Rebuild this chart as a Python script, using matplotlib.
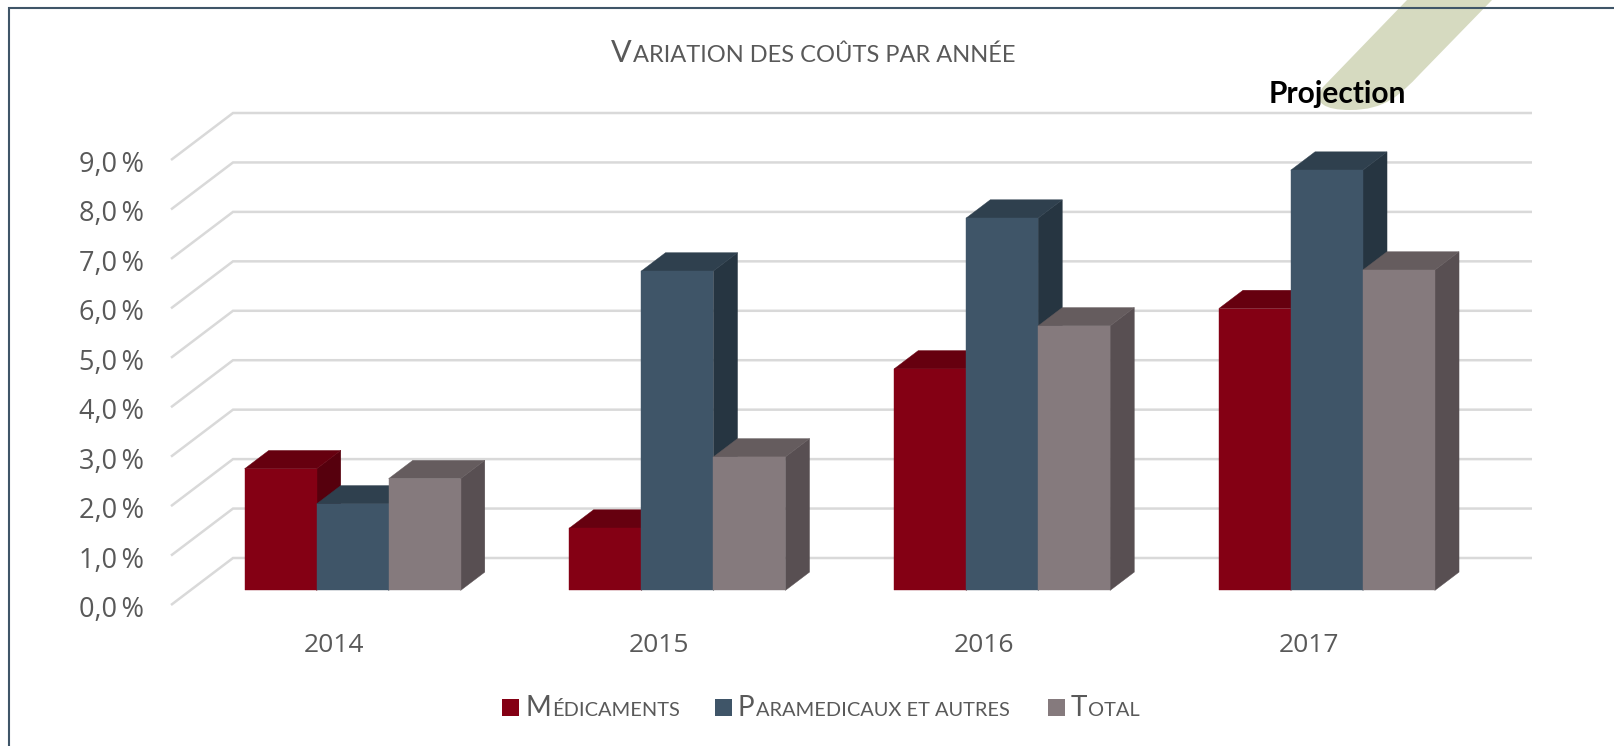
import matplotlib
matplotlib.use('Agg')
from matplotlib import pyplot as plt
from matplotlib.patches import PathPatch, Polygon, Rectangle
from matplotlib.path import Path

years = ['2014', '2015', '2016', '2017']
series_names = ['MÉDICAMENTS', 'PARAMEDICAUX ET AUTRES', 'TOTAL']
medicaments = [2.46, 1.26, 4.48, 5.7]
paramedicaux = [1.75, 6.46, 7.53, 8.5]
total = [2.26, 2.7, 5.35, 6.48]
y_ticks = [0, 1, 2, 3, 4, 5, 6, 7, 8, 9]

W, H = 1614, 746
GREY = '#595959'
fronts = ['#840014', '#3F5568', '#857A7D']
tops = ['#66000F', '#2F404E', '#655C5E']
sides = ['#56000D', '#263541', '#584F52']

# shift from front to back of the floor, in data units
DX = 62 / 324.7
DY = 47 / 49.44
BAR_W = 72 / 324.7


def proj(x, y, d):
    return x + d * DX, y + d * DY


def px(x, y):
    """pixel position from the top left to figure fraction"""
    return x / W, 1 - y / H


def small_caps(fig, x, y, text, big, small):
    """first letter large and the rest as small capitals, x,y in pixels"""
    r = fig.canvas.get_renderer()
    t = fig.text(*px(x, y), text[0], fontsize=big, color=GREY, family='Lato', va='baseline')
    fig.text(*px(x + t.get_window_extent(r).width + 1, y), text[1:], fontsize=small, color=GREY,
             family='Lato', va='baseline')


fig = plt.figure(figsize=(W / 100, H / 100), dpi=100)
fig.patch.set_facecolor('white')

# olive band behind the frame, rounded at its lower end
band_verts = [px(1407, 0), px(1492, 0), px(1420, 74), px(1400, 95), px(1385, 110), px(1350, 110),
              px(1325, 110), px(1312, 103), px(1323, 87), px(1407, 0)]
band_codes = [Path.MOVETO, Path.LINETO, Path.LINETO, Path.CURVE4, Path.CURVE4, Path.CURVE4,
              Path.CURVE4, Path.CURVE4, Path.CURVE4, Path.CLOSEPOLY]
fig.add_artist(PathPatch(Path(band_verts, band_codes), transform=fig.transFigure, fc='#D6DAC0',
                         ec='none', zorder=0))
# frame has only a top and a left side
fig.add_artist(plt.Line2D([9 / W, 9 / W, 1], [0, 1 - 8 / H, 1 - 8 / H], color='#3F5568', lw=1.5,
                          zorder=1, solid_joinstyle='miter'))

ax = fig.add_axes([171 / W, 1 - 605 / H, (1532 - 171) / W, (605 - 113) / H])
ax.set_xlim(-0.5, 3.5 + DX)
ax.set_ylim(0, 9 + DY)
ax.axis('off')
ax.patch.set_alpha(0)

# gridlines: wall and side
for v in y_ticks:
    x0, y0 = proj(-0.5, v, 0)
    x1, y1 = proj(-0.5, v, 1)
    x2, y2 = proj(3.5, v, 1)
    ax.plot([x0, x1, x2], [y0, y1, y2], color='#D9D9D9', lw=1.8, zorder=1, clip_on=False,
            solid_joinstyle='miter', solid_capstyle='butt')
    ax.text(-0.583, v - 0.10, f'{v},0\u2009%', ha='right', va='center', fontsize=19.5,
            color=GREY, family=['Open Sans', 'DejaVu Sans'], clip_on=False)

for i, year in enumerate(years):
    ax.text(i + 0.003, -0.82, year, ha='center', va='center', fontsize=19, color=GREY,
            family='Open Sans')

# bars, left ones first so the next one covers their side
for j, values in enumerate([medicaments, paramedicaux, total]):
    for i, v in enumerate(values):
        left = i - 1.5 * BAR_W + j * BAR_W
        right = left + BAR_W
        d0, d1 = 0.31, 0.70
        front = [proj(left, 0, d0), proj(right, 0, d0), proj(right, v, d0), proj(left, v, d0)]
        top = [proj(left, v, d0), proj(right, v, d0), proj(right, v, d1), proj(left, v, d1)]
        side = [proj(right, 0, d0), proj(right, 0, d1), proj(right, v, d1), proj(right, v, d0)]
        z = 3 + j
        ax.add_patch(Polygon(side, fc=sides[j], ec=sides[j], lw=0.3, zorder=z))
        ax.add_patch(Polygon(top, fc=tops[j], ec=tops[j], lw=0.3, zorder=z))
        ax.add_patch(Polygon(front, fc=fronts[j], ec=fronts[j], lw=0.3, zorder=z + 0.5))

fig.canvas.draw()
small_caps(fig, 611, 62, 'VARIATION DES COÛTS PAR ANNÉE', 22, 17)
fig.text(*px(1337, 103), 'Projection', fontsize=21.5, weight='bold', color='black',
         family='Lato', ha='center', va='baseline')

# legend
legend_x = [502, 715, 1048]
for name, col, lx in zip(series_names, fronts, legend_x):
    fig.add_artist(Rectangle(px(lx, 716), 17 / W, 17 / H, transform=fig.transFigure, fc=col,
                             ec='none'))
    small_caps(fig, lx + 23, 716, name, 20, 14.4)

fig.savefig('out.png', dpi=100)
